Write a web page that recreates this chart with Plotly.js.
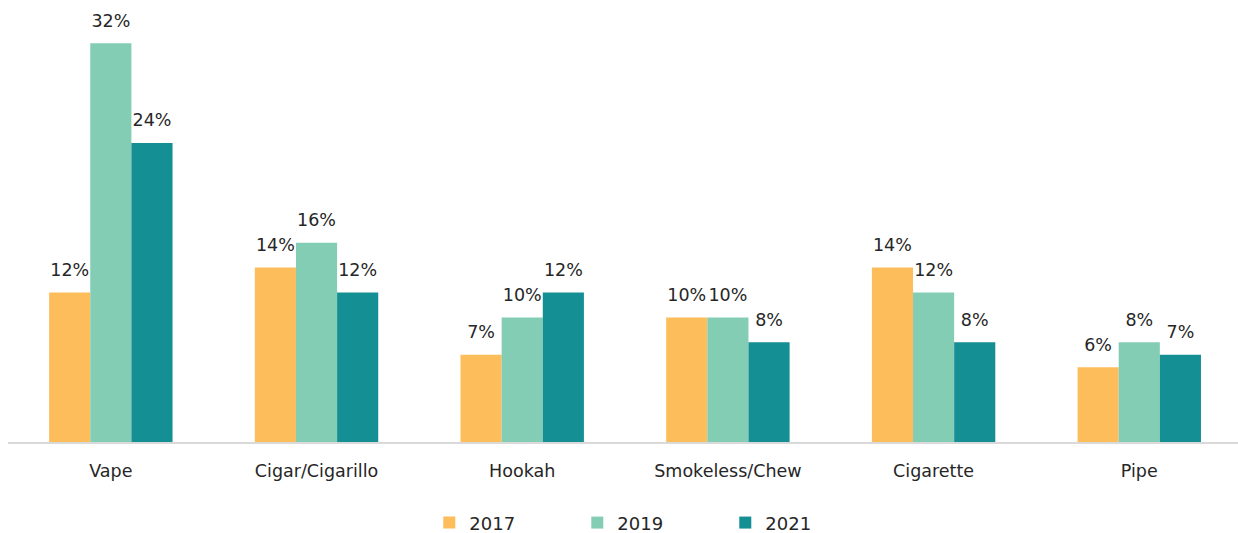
<!DOCTYPE html>
<html>
<head>
<meta charset="utf-8">
<script src="https://cdn.plot.ly/plotly-3.0.1.min.js"></script>
<style>html,body{margin:0;padding:0;background:#fff;}#chart{width:1238px;height:533px;}</style>
</head>
<body>
<div id="chart"></div>
<script>
const categories = ["Vape", "Cigar/Cigarillo", "Hookah", "Smokeless/Chew", "Cigarette", "Pipe"];
const years = ["2017", "2019", "2021"];
const v2017 = [12, 14, 7, 10, 14, 6];
const v2019 = [32, 16, 10, 10, 12, 8];
const v2021 = [24, 12, 12, 8, 8, 7];
const colors = ["#FCBD5A", "#84CDB5", "#148F94"];

const series = [v2017, v2019, v2021];
const FONT = "DejaVu Sans, Liberation Sans, Arial, sans-serif";

const bars = series.map((vals, i) => ({
  type: "bar",
  name: years[i],
  x: categories,
  y: vals,
  marker: {color: colors[i], line: {width: 0}},
  hoverinfo: "none"
}));

const labels = series.map((vals, i) => ({
  type: "scatter",
  mode: "markers+text",
  name: years[i] + " labels",
  showlegend: false,
  x: categories,
  y: vals,
  text: vals.map(v => v + "%"),
  textposition: "top center",
  marker: {size: 18, opacity: 0, color: colors[i]},
  textfont: {family: FONT, size: 17.5, color: "#262626"},
  cliponaxis: false,
  hoverinfo: "none"
}));

const layout = {
  width: 1238, height: 533,
  margin: {l: 8, r: 0, t: 6, b: 91},
  barmode: "group",
  bargap: 0.4,
  bargroupgap: 0,
  scattermode: "group",
  scattergap: 0.4,
  paper_bgcolor: "#fff",
  plot_bgcolor: "#fff",
  font: {family: FONT, size: 17, color: "#262626"},
  xaxis: {
    range: [-0.5, 5.48],
    showline: true, linecolor: "#D9D9D9", linewidth: 2,
    ticks: "", showgrid: false,
    tickfont: {family: FONT, size: 17.5, color: "#262626"},
    ticklabelstandoff: 12
  },
  yaxis: {
    range: [0, 35], visible: false, showgrid: false, zeroline: false
  },
  showlegend: true,
  legend: {
    orientation: "h", x: 0.523, xanchor: "center",
    yref: "container", y: 0.019, yanchor: "middle",
    font: {family: FONT, size: 18, color: "#262626"},
    entrywidth: 103, entrywidthmode: "pixels",
    itemwidth: 30, traceorder: "normal"
  }
};

Plotly.newPlot("chart", bars.concat(labels), layout, {displayModeBar: false, staticPlot: true});
</script>
</body>
</html>
